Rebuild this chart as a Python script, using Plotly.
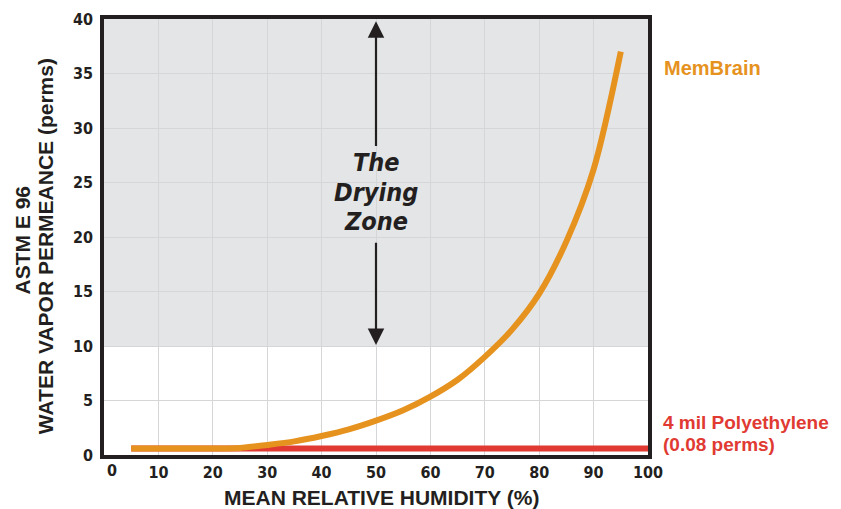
import plotly.graph_objects as go

# Data
rh = [5, 10, 15, 20, 25, 30, 35, 40, 45, 50, 55, 60, 65, 70, 75, 80, 85, 90, 95]
membrain = [0.6, 0.6, 0.6, 0.6, 0.65, 0.92, 1.25, 1.74, 2.35, 3.15, 4.1, 5.35, 6.9, 9.0,
            11.5, 14.8, 19.6, 26.2, 37.0]
poly_x = [5, 100]
poly_y = [0.6, 0.6]
x_ticks = [10, 20, 30, 40, 50, 60, 70, 80, 90, 100]
y_ticks = [0, 5, 10, 15, 20, 25, 30, 35, 40]

ORANGE = "#e6921e"
RED = "#e03a33"
DARK = "#231f20"
COND = "DejaVu Sans Condensed, Liberation Sans Narrow, sans-serif"
SANS = "Liberation Sans, Arial, sans-serif"
TICKFONT = dict(family=COND, size=16, color=DARK)

fig = go.Figure()
fig.add_trace(go.Scatter(x=poly_x, y=poly_y, mode="lines",
                         line=dict(color=RED, width=6), hoverinfo="skip"))
fig.add_trace(go.Scatter(x=rh, y=membrain, mode="lines",
                         line=dict(color=ORANGE, width=6, shape="spline", smoothing=0.9),
                         hoverinfo="skip"))

# drying zone shading
fig.add_shape(type="rect", xref="x", yref="y", x0=0, x1=100, y0=10, y1=40,
              fillcolor="#e4e5e7", line=dict(width=0), layer="below")

# arrows
fig.add_annotation(x=50, y=39.8, ax=50, ay=28.2, xref="x", yref="y", axref="x", ayref="y",
                   text="", showarrow=True, arrowhead=2, arrowsize=1.5, arrowwidth=2.2,
                   arrowcolor=DARK)
fig.add_annotation(x=50, y=10.1, ax=50, ay=19.6, xref="x", yref="y", axref="x", ayref="y",
                   text="", showarrow=True, arrowhead=2, arrowsize=1.5, arrowwidth=2.2,
                   arrowcolor=DARK)
for txt, yv in [("The", 26.8), ("Drying", 24.05), ("Zone", 21.4)]:
    fig.add_annotation(x=50, y=yv, xref="x", yref="y", showarrow=False,
                       text=f"<b><i>{txt}</i></b>",
                       font=dict(family=COND, size=25, color=DARK))

# series labels
fig.add_annotation(x=1.026, y=35.5, xref="paper", yref="y", xanchor="left", showarrow=False,
                   text="<b>MemBrain</b>", font=dict(family=SANS, size=20, color=ORANGE))
fig.add_annotation(x=1.024, y=2.94, xref="paper", yref="y", xanchor="left", showarrow=False,
                   text="<b>4 mil Polyethylene</b>", font=dict(family=SANS, size=19, color=RED))
fig.add_annotation(x=1.024, y=0.92, xref="paper", yref="y", xanchor="left", showarrow=False,
                   text="<b>(0.08 perms)</b>", font=dict(family=SANS, size=19, color=RED))

# y-axis title (two lines)
fig.add_annotation(x=-0.1507, y=0.492, xref="paper", yref="paper", showarrow=False,
                   textangle=-90, xanchor="center", yanchor="middle",
                   text="<b>ASTM E 96</b>", font=dict(family=SANS, size=21, color=DARK))
fig.add_annotation(x=-0.1085, y=0.479, xref="paper", yref="paper", showarrow=False,
                   textangle=-90, xanchor="center", yanchor="middle",
                   text="<b>WATER VAPOR PERMEANCE (perms)</b>",
                   font=dict(family=SANS, size=21, color=DARK))
# x-axis title
fig.add_annotation(x=0.511, y=0, xref="paper", yref="paper", showarrow=False,
                   yanchor="middle", yshift=-42,
                   text="<b>MEAN RELATIVE HUMIDITY (%)</b>",
                   font=dict(family=SANS, size=21, color=DARK))
# zero label on x axis (offset as in original)
fig.add_annotation(x=1.5, y=0, xref="x", yref="paper", yanchor="middle", yshift=-15,
                   showarrow=False, text="<b>0</b>", font=TICKFONT)

fig.update_layout(
    width=833, height=501,
    margin=dict(l=96, r=193, t=11, b=54),
    paper_bgcolor="white", plot_bgcolor="white",
    showlegend=False,
    xaxis=dict(range=[0, 100], tickvals=x_ticks, automargin=False,
               ticktext=[f"<b>{v}</b>" for v in x_ticks],
               tickfont=TICKFONT, showgrid=True, gridcolor="#d5d6d8", gridwidth=1.2,
               showline=True, linecolor=DARK, linewidth=3.5, mirror=True,
               ticks="", zeroline=False),
    yaxis=dict(range=[0, 40], tickvals=y_ticks, automargin=False,
               ticktext=[f"<b>{v}</b>" for v in y_ticks],
               tickfont=TICKFONT, showgrid=True, gridcolor="#d5d6d8", gridwidth=1.2,
               showline=True, linecolor=DARK, linewidth=3.5, mirror=True,
               ticks="outside", ticklen=4, tickcolor="rgba(0,0,0,0)", zeroline=False),
)

fig.write_html("out.html")
